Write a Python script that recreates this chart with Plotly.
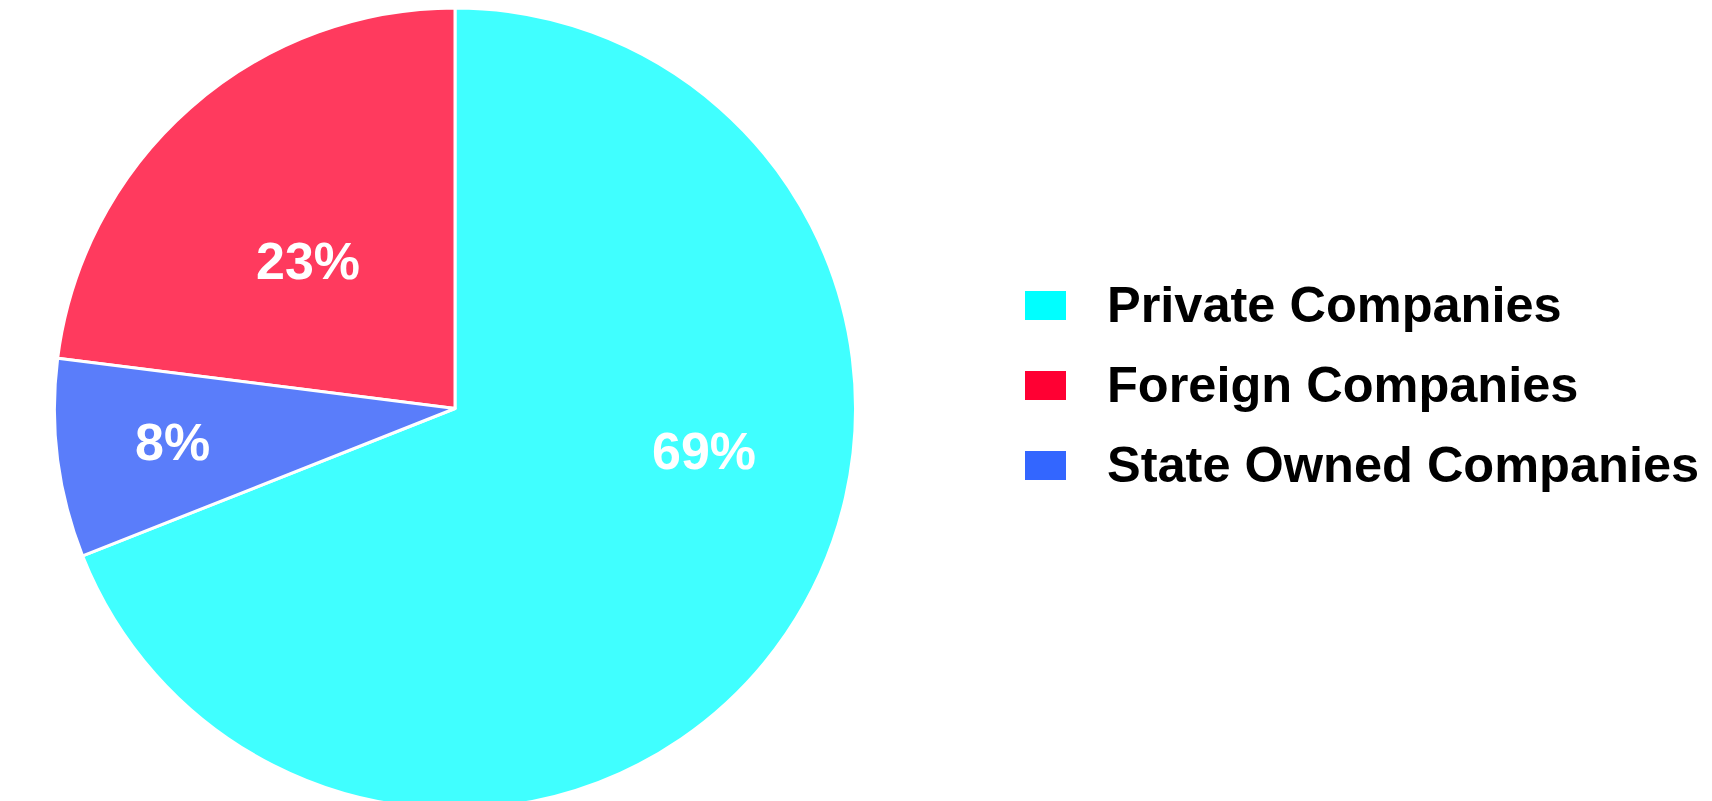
import numpy as np
import plotly.graph_objects as go

W, H = 1712, 801

# Data
labels = ["Private Companies", "Foreign Companies", "State Owned Companies"]
values = [69, 23, 8]
slice_colors = ["#40FFFF", "#FF3A5E", "#5A7DFA"]
legend_colors = ["#00FFFF", "#FF0033", "#3366FF"]

# Label placement style (angle nudge from slice middle in degrees, radius fraction)
label_angle_nudge = [-24.4, -3.4, 0.4]
label_radius_frac = [0.63, 0.52, 0.71]

# Pie geometry (paper domain)
dom_x = [46.5 / W, 847.5 / W]
dom_y = [0.0, 1.0]

fig = go.Figure()
fig.add_trace(go.Pie(
    labels=labels,
    values=values,
    sort=False,
    direction="counterclockwise",
    rotation=0,
    marker=dict(colors=slice_colors, line=dict(color="white", width=3)),
    textinfo="none",
    hoverinfo="label+percent",
    showlegend=False,
    domain=dict(x=dom_x, y=dom_y),
))

annotations = []
shapes = []

# Percent labels positioned from slice angles (derived from the values)
total = float(sum(values))
cx = (dom_x[0] + dom_x[1]) / 2 * W
cy = (1 - (dom_y[0] + dom_y[1]) / 2) * H
R = min((dom_x[1] - dom_x[0]) * W, (dom_y[1] - dom_y[0]) * H) / 2
# first slice spans clockwise [0, v0]; following slices go counterclockwise from 12 o'clock
starts = []
ends = []
a = values[0] / total * 360
starts.append(0.0); ends.append(a)
cur = 0.0
for v in values[1:]:
    nxt = cur - v / total * 360
    starts.append(cur); ends.append(nxt)
    cur = nxt
for v, s, e, dn, rf in zip(values, starts, ends, label_angle_nudge, label_radius_frac):
    mid = np.deg2rad((s + e) / 2 + dn)
    px = cx + rf * R * np.sin(mid)
    py = cy - rf * R * np.cos(mid)
    annotations.append(dict(
        text=f"{v}%", xref="paper", yref="paper",
        x=px / W, y=1 - py / H, xanchor="center", yanchor="middle",
        showarrow=False,
        font=dict(family="Liberation Sans", size=52, color="white", weight="bold"),
    ))

# Custom legend built from the category arrays
row_centers = [297.5, 377.5, 457.5]
for lab, col, yc in zip(labels, legend_colors, row_centers):
    shapes.append(dict(
        type="rect", xref="paper", yref="paper",
        x0=1017 / W, x1=1058 / W,
        y0=1 - (yc + 14.5) / H, y1=1 - (yc - 14.5) / H,
        fillcolor=col, line=dict(width=0),
    ))
    annotations.append(dict(
        text=lab, xref="paper", yref="paper",
        x=1097 / W, y=1 - (yc - 1) / H, xanchor="left", yanchor="middle",
        showarrow=False,
        font=dict(family="Liberation Sans", size=50.5, color="black", weight="bold"),
    ))

fig.update_layout(
    width=W, height=H,
    margin=dict(l=0, r=0, t=0, b=0),
    paper_bgcolor="white",
    plot_bgcolor="white",
    shapes=shapes,
    annotations=annotations,
    showlegend=False,
)

fig.write_html("out.html")
